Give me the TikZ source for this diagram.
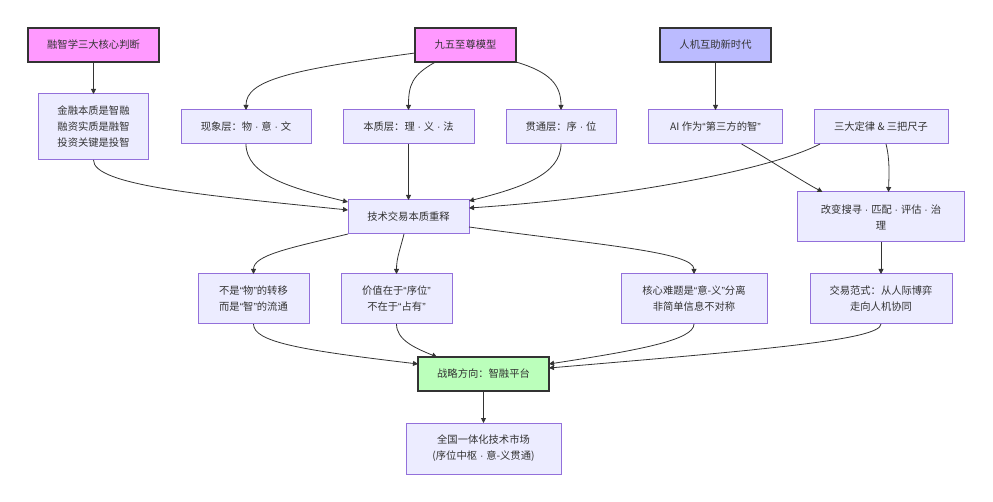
\documentclass[tikz,border=0pt]{standalone}
\usepackage{fontspec}
\setmainfont{Noto Sans CJK SC}
\newfontfamily\latinfont{Liberation Sans}
\usepackage{tikz}
\usetikzlibrary{arrows.meta, positioning}

\definecolor{boxfill}{HTML}{ECECFF}
\definecolor{boxline}{HTML}{9370DB}
\definecolor{pinkfill}{HTML}{FF99FF}
\definecolor{bluefill}{HTML}{BBBBFF}
\definecolor{greenfill}{HTML}{BBFFBB}
\definecolor{darkline}{HTML}{333333}

% narrow punctuation
\newcommand{\mdot}{{\latinfont\ ·\ }}
\newcommand{\oq}{{\latinfont “}}
\newcommand{\cq}{{\latinfont ”}}

\begin{document}
\begin{tikzpicture}[
    x=1pt, y=-1pt,
    node distance=32pt and 32pt,
    idea/.style={rectangle, draw=boxline, line width=1pt, fill=boxfill, align=center, text=darkline, font=\fontsize{10.3}{16}\selectfont, minimum height=34pt, inner sep=0pt, outer sep=0pt},
    root/.style={idea, draw=darkline, line width=1.6pt, fill=pinkfill},
    era/.style={root, fill=bluefill},
    goal/.style={root, fill=greenfill},
    link/.style={draw=darkline, line width=0.8pt, -{Triangle[length=5pt, width=5pt]}}
]
\useasboundingbox (0,0) rectangle (993,502);

% Roots
\node[root, minimum width=131pt] (judge) at (93.5,45) {融智学三大核心判断};
\node[root, minimum width=101pt] (model) at (465.5,45) {九五至尊模型};
\node[era, minimum width=111pt] (era) at (715.5,45) {人机互助新时代};

% Level 1
\node[idea, minimum width=110pt, minimum height=66pt, below=of judge] (essence) {金融本质是智融\\融资实质是融智\\投资关键是投智};
\node[idea, minimum width=130pt] (phen) at (246,127) {现象层：物\mdot 意\mdot 文};
\node[idea, minimum width=131pt] (core) at (408.5,127) {本质层：理\mdot 义\mdot 法};
\node[idea, minimum width=110pt] (thru) at (561,127) {贯通层：序\mdot 位};
\node[idea, minimum width=134pt, below=48pt of era] (ai) {AI 作为\oq 第三方的智\cq};
\node[idea, minimum width=134pt] (laws) at (881,127) {三大定律 \& 三把尺子};

% Level 2
\node[idea, minimum width=121pt, below=56pt of core] (reinterp) {技术交易本质重释};
\node[idea, minimum width=167pt, minimum height=50pt, below=48pt of laws] (change) {改变搜寻\mdot 匹配\mdot 评估\mdot 治\\理};

% Level 3
\node[idea, minimum width=111pt, minimum height=50pt] (flow) at (253.5,299) {不是\oq 物\cq 的转移\\而是\oq 智\cq 的流通};
\node[idea, minimum width=111pt, minimum height=50pt] (order) at (396.5,299) {价值在于\oq 序位\cq\\不在于\oq 占有\cq};
\node[idea, minimum width=146pt, minimum height=50pt] (split) at (694,299) {核心难题是\oq 意-义\cq 分离\\非简单信息不对称};
\node[idea, minimum width=142pt, minimum height=50pt, below=of change] (paradigm) {交易范式：从人际博弈\\走向人机协同};

% Platform
\node[goal, minimum width=131pt] (platform) at (483.5,374) {战略方向：智融平台};
\node[idea, minimum width=155pt, minimum height=51pt, below=of platform] (market) {全国一体化技术市场\\(序位中枢\mdot 意-义贯通)};

% Draw lines
\draw[link] (judge) -- (essence);
\draw[link] ([yshift=-8pt]model.west) .. controls (290,70) and (246,80) .. (phen.north);
\draw[link] ([xshift=-30pt]model.south) .. controls (412,75) and (408.5,85) .. (core.north);
\draw[link] (model.south east) .. controls (550,72) and (561,85) .. (thru.north);
\draw[link] (era) -- (ai);

\draw[link] (essence.south) .. controls (93,185) and (200,195) .. ([yshift=7pt]reinterp.west);
\draw[link] (phen.south) .. controls (246,175) and (290,188) .. ([yshift=-2pt]reinterp.north west);
\draw[link] (core) -- (reinterp);
\draw[link] (thru.south) .. controls (561,175) and (520,188) .. ([yshift=-1pt]reinterp.north east);
\draw[link] ([xshift=6pt]laws.south west) .. controls (770,170) and (620,198) .. ([yshift=9pt]reinterp.east);
\draw[link] ([xshift=26pt]ai.south) .. controls (770,160) and (800,180) .. ([xshift=25pt]change.north west);
\draw[link] ([xshift=5pt]laws.south) .. controls (890,160) and (889,175) .. ([xshift=7.5pt]change.north);

\draw[link] (reinterp.south west) .. controls (290,248) and (253.5,255) .. (flow.north);
\draw[link] ([xshift=-4.5pt]reinterp.south) .. controls (400,250) and (396.5,258) .. (order.north);
\draw[link] ([yshift=-10pt]reinterp.east) .. controls (600,245) and (694,252) .. (split.north);
\draw[link] (change) -- (paradigm);

\draw[link] (flow.south) .. controls (253.5,342) and (300,350) .. ([yshift=10pt]platform.west);
\draw[link] (order.south) .. controls (396.5,340) and (415,348) .. ([xshift=19pt]platform.north west);
\draw[link] (split.south) .. controls (694,340) and (640,350) .. ([yshift=10pt]platform.east);
\draw[link] (paradigm.south) .. controls (881,340) and (760,350) .. ([yshift=6pt]platform.east);
\draw[link] (platform) -- (market);
\end{tikzpicture}
\end{document}
